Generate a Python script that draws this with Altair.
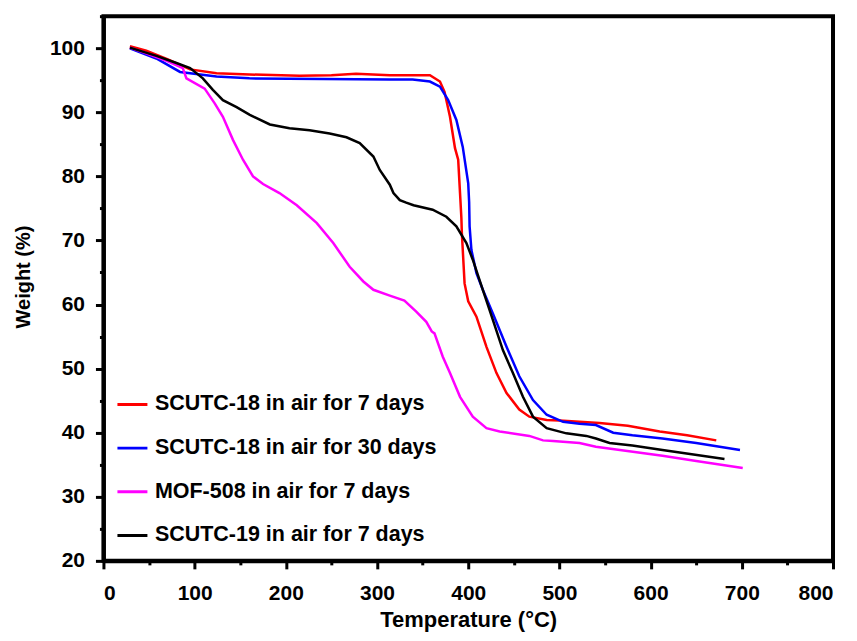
import altair as alt
import pandas as pd

series_names = [
    "SCUTC-18 in air for 7 days",
    "SCUTC-18 in air for 30 days",
    "MOF-508 in air for 7 days",
    "SCUTC-19 in air for 7 days",
]
colors = ["#FF0000", "#0000FF", "#FF00FF", "#000000"]

red_t = [29, 47, 70, 95, 124, 160, 215, 250, 277, 314, 339, 358, 369, 374, 380, 385.5, 389, 391, 392.5,
         393, 396, 400, 409, 420, 431, 442, 456, 467, 486, 500, 522, 544, 575, 610, 640, 672]
red_w = [100.3, 99.6, 98.3, 96.7, 96.1, 95.9, 95.7, 95.8, 96.0, 95.8, 95.8, 95.8, 94.8, 93.2, 89.3, 84.4,
         82.6, 77.4, 73.5, 71.2, 63.3, 60.5, 58.1, 53.4, 49.3, 46.2, 43.6, 42.5, 42.0, 41.9, 41.7, 41.5,
         41.1, 40.2, 39.6, 38.8]

blue_t = [29, 58, 84, 124, 160, 241, 314, 339, 358, 369, 378, 387, 394, 400, 401, 401.5, 403.5, 409, 416,
          427, 442, 456, 471, 486, 504, 522, 540, 559, 580, 613, 650, 698]
blue_w = [100.0, 98.4, 96.3, 95.6, 95.3, 95.2, 95.1, 95.1, 94.8, 94.0, 91.9, 88.8, 84.6, 78.9, 76.0, 72.2,
          68.5, 64.9, 62.3, 58.6, 53.4, 48.8, 45.1, 42.8, 41.7, 41.4, 41.2, 40.0, 39.6, 39.1, 38.4, 37.3]

mof_t = [29, 45.5, 70, 87, 91, 111, 122, 131, 142, 153, 164, 175, 193, 212, 234, 252, 270, 285, 296, 314,
         330, 343, 354, 360, 363, 372, 380, 391, 405, 420, 434.5, 467, 482, 493, 522, 540, 613, 650, 701]
mof_w = [100.1, 99.3, 98.0, 96.9, 95.3, 93.7, 91.4, 89.3, 85.7, 82.6, 80.0, 78.8, 77.4, 75.5, 72.7, 69.6,
         65.9, 63.6, 62.3, 61.4, 60.6, 58.9, 57.3, 55.8, 55.5, 51.9, 49.3, 45.6, 42.5, 40.7, 40.2, 39.5,
         38.8, 38.7, 38.4, 37.8, 36.4, 35.6, 34.5]

blk_t = [29, 58, 80, 95, 109, 120, 131, 146, 160.5, 182.5, 204, 226, 248, 266.5, 281, 296, 303, 314, 318,
         325, 332, 340, 361, 376, 387, 398, 405, 416, 427, 438, 449, 460, 471, 486, 507.6, 529.5, 540, 555,
         580, 613, 681]
blk_w = [100.1, 98.8, 97.7, 96.9, 95.3, 93.5, 91.9, 90.8, 89.6, 88.1, 87.5, 87.2, 86.7, 86.1, 85.2, 83.1,
         81.0, 78.7, 77.4, 76.3, 75.9, 75.5, 74.8, 73.7, 72.2, 69.6, 67.0, 62.3, 57.6, 52.9, 49.3, 45.6,
         42.5, 40.7, 39.9, 39.5, 39.1, 38.4, 38.0, 37.3, 35.9]

x_ticks = list(range(0, 801, 50))
y_ticks = list(range(20, 106, 5))

rows = []
for name, ts, ws in zip(series_names, [red_t, blue_t, mof_t, blk_t], [red_w, blue_w, mof_w, blk_w]):
    for t, w in zip(ts, ws):
        rows.append({"series": name, "T": t, "W": w})
df = pd.DataFrame(rows)

FONT = "Liberation Sans"

chart = alt.Chart(df).mark_line(strokeWidth=2.5).encode(
    x=alt.X(
        "T:Q",
        scale=alt.Scale(domain=[0, 800], nice=False, zero=False),
        axis=alt.Axis(
            values=x_ticks,
            title="Temperature (°C)",
            labelExpr="datum.value % 100 === 0 ? datum.label : ''",
            tickSize={"condition": {"test": "datum.value % 100 === 0", "value": 8}, "value": 4},
            labelPadding=14,
            titleY=66,
            titleBaseline="alphabetic",
            titleFontSize=22,
        ),
    ),
    y=alt.Y(
        "W:Q",
        scale=alt.Scale(domain=[20, 105], nice=False, zero=False),
        axis=alt.Axis(
            values=y_ticks,
            title="Weight (%)",
            labelExpr="datum.value % 10 === 0 ? datum.label : ''",
            tickSize={"condition": {"test": "datum.value % 10 === 0", "value": 8}, "value": 4},
            labelPadding=11,
            titleX=-79.5,
            titleY=260.5,
            titleAngle=270,
            titleAlign="center",
            titleBaseline="middle",
            titleFontSize=20,
        ),
    ),
    color=alt.Color(
        "series:N",
        scale=alt.Scale(domain=series_names, range=colors),
        legend=alt.Legend(
            title=None,
            orient="none",
            legendX=12.5,
            legendY=377.5,
            symbolType="stroke",
            symbolSize=900,
            symbolStrokeWidth=3,
            labelFontSize=21.5,
            labelFont=FONT,
            labelFontWeight="bold",
            labelColor="black",
            labelOffset=6,
            labelLimit=0,
            clipHeight=22,
            rowPadding=21.7,
            padding=0,
        ),
    ),
).properties(
    width=730,
    height=545,
    autosize=alt.AutoSizeParams(type="none"),
    padding={"left": 95.5, "top": 8, "right": 16, "bottom": 72},
).configure_view(
    stroke="black", strokeWidth=4
).configure_axis(
    grid=False,
    domainColor="black",
    domainWidth=4,
    tickColor="black",
    tickWidth=3,
    labelColor="black",
    labelFont=FONT,
    labelFontWeight="bold",
    labelFontSize=21,
    titleColor="black",
    titleFont=FONT,
    titleFontWeight="bold",
)

chart.save("out.html", embed_options={"renderer": "svg", "actions": False})
